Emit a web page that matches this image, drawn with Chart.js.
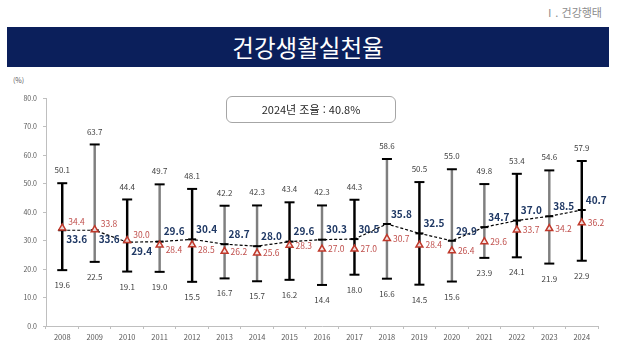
<!DOCTYPE html>
<html lang="ko">
<head>
<meta charset="utf-8">
<script src="https://cdn.jsdelivr.net/npm/chart.js@4"></script>
<style>
  html, body { margin: 0; padding: 0; background: #fff; }
  body { width: 630px; height: 353px; position: relative; overflow: hidden; font-family: "Noto Sans CJK KR", "Noto Sans", sans-serif; }
  #section { position: absolute; right: 28px; top: 4px; font-size: 11px; color: #8c8c8c; }
  #banner { position: absolute; left: 7px; top: 27px; width: 602px; height: 40px; background: #0b1f5b;
    color: #fff; font-size: 23.5px; line-height: 40px; text-align: center; }
  #unit { position: absolute; left: 13px; top: 75px; font-size: 7px; color: #595959; }
  #note { position: absolute; left: 226px; top: 96px; width: 168px; height: 25px; border: 1px solid #a6a6a6;
    border-radius: 6px; font-size: 11px; line-height: 25px; text-align: center; color: #262626; }
  #chart { position: absolute; left: 0; top: 0; }
</style>
</head>
<body>
<div id="section">Ⅰ. 건강행태</div>
<div id="banner">건강생활실천율</div>
<div id="unit">(%)</div>
<canvas id="chart" width="630" height="353"></canvas>
<div id="note">2024년 조율 : 40.8%</div>
<script>
const years = ['2008', '2009', '2010', '2011', '2012', '2013', '2014', '2015', '2016',
  '2017', '2018', '2019', '2020', '2021', '2022', '2023', '2024'];
const standardized = [33.6, 33.6, 29.4, 29.6, 30.4, 28.7, 28.0, 29.6, 30.3, 30.5, 35.8, 32.5, 29.9, 34.7, 37.0, 38.5, 40.7];
const crude = [34.4, 33.8, 30.0, 28.4, 28.5, 26.2, 25.6, 28.3, 27.0, 27.0, 30.7, 28.4, 26.4, 29.6, 33.7, 34.2, 36.2];
const maxRate = [50.1, 63.7, 44.4, 49.7, 48.1, 42.2, 42.3, 43.4, 42.3, 44.3, 58.6, 50.5, 55.0, 49.8, 53.4, 54.6, 57.9];
const minRate = [19.6, 22.5, 19.1, 19.0, 15.5, 16.7, 15.7, 16.2, 14.4, 18.0, 16.6, 14.5, 15.6, 23.9, 24.1, 21.9, 22.9];
const yTicks = [0, 10, 20, 30, 40, 50, 60, 70, 80];

// stem colour per year (black / grey)
const stemColors = ['#000', '#7f7f7f', '#000', '#7f7f7f', '#000', '#7f7f7f', '#7f7f7f', '#000', '#7f7f7f',
  '#000', '#7f7f7f', '#000', '#7f7f7f', '#7f7f7f', '#000', '#7f7f7f', '#000'];

const FONT = '"Noto Sans CJK KR", "Noto Sans", sans-serif';

// draws the number labels next to the marks
const labelPlugin = {
  id: 'labels',
  afterDatasetsDraw(chart) {
    const { ctx, scales: { x, y } } = chart;
    ctx.save();
    ctx.textBaseline = 'middle';
    years.forEach((yr, i) => {
      const px = x.getPixelForValue(i);

      ctx.font = `8px ${FONT}`;
      ctx.fillStyle = '#404040';
      ctx.textAlign = 'center';
      ctx.fillText(maxRate[i].toFixed(1), px, y.getPixelForValue(maxRate[i]) - 13);
      ctx.fillText(minRate[i].toFixed(1), px, y.getPixelForValue(minRate[i]) + 15);

      const below = i < 3;
      ctx.textAlign = 'left';
      ctx.font = `bold 10px ${FONT}`;
      ctx.fillStyle = '#1f3864';
      ctx.fillText(standardized[i].toFixed(1), px + 4, y.getPixelForValue(standardized[i]) + (below ? 9 : -10));

      let shift = 0;
      if (below) shift = -6;
      else if (i === 3 || i === 4) shift = 5;
      ctx.font = `8.5px ${FONT}`;
      ctx.fillStyle = '#c0504d';
      ctx.fillText(crude[i].toFixed(1), px + 6, y.getPixelForValue(crude[i]) + shift);
    });
    ctx.restore();
  }
};

new Chart(document.getElementById('chart'), {
  data: {
    labels: years,
    datasets: [
      {
        type: 'line',
        data: standardized,
        borderColor: '#000',
        borderWidth: 1.2,
        borderDash: [3, 2],
        pointStyle: 'line',
        pointRadius: 4,
        pointBorderWidth: 2,
        pointBorderColor: '#000',
        order: 1
      },
      {
        type: 'line',
        data: crude,
        showLine: false,
        pointStyle: 'triangle',
        pointRadius: 4,
        pointBorderWidth: 1.5,
        pointBorderColor: '#c0392b',
        pointBackgroundColor: 'rgba(255,240,240,0.9)',
        order: 0
      },
      {
        type: 'line',
        data: maxRate,
        showLine: false,
        pointStyle: 'line',
        pointRadius: 5,
        pointBorderWidth: 2,
        pointBorderColor: '#000',
        order: 2
      },
      {
        type: 'line',
        data: minRate,
        showLine: false,
        pointStyle: 'line',
        pointRadius: 5,
        pointBorderWidth: 2,
        pointBorderColor: '#000',
        order: 2
      },
      {
        type: 'bar',
        data: minRate.map((v, i) => [v, maxRate[i]]),
        backgroundColor: stemColors,
        barThickness: 1.8,
        order: 3
      }
    ]
  },
  options: {
    responsive: false,
    animation: false,
    events: [],
    layout: { padding: { top: 98, right: 32, left: 0, bottom: 0 } },
    plugins: {
      legend: { display: false },
      tooltip: { enabled: false }
    },
    scales: {
      x: {
        offset: true,
        afterFit: s => { s.height = 27; },
        grid: { offset: true, drawOnChartArea: false, tickLength: 3, color: '#bfbfbf' },
        border: { color: '#bfbfbf' },
        ticks: { color: '#595959', font: { size: 7.5, family: FONT }, padding: 4, maxRotation: 0 }
      },
      y: {
        min: 0,
        max: 80,
        afterFit: s => { s.width = 46; },
        afterBuildTicks: s => { s.ticks = yTicks.map(v => ({ value: v })); },
        grid: { drawOnChartArea: false, tickLength: 3, color: '#bfbfbf' },
        border: { color: '#bfbfbf' },
        ticks: { color: '#595959', font: { size: 7, family: FONT }, padding: 6, callback: v => v.toFixed(1) }
      }
    }
  },
  plugins: [labelPlugin]
});
</script>
</body>
</html>
